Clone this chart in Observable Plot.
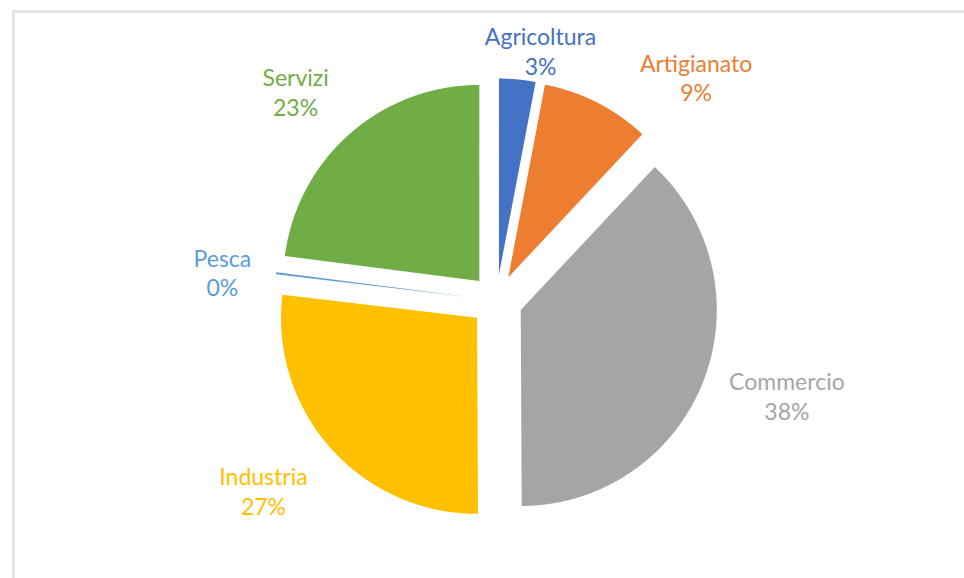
<!DOCTYPE html>
<html><head><meta charset="utf-8">
<script src="https://cdn.jsdelivr.net/npm/d3@7"></script>
<script src="https://cdn.jsdelivr.net/npm/@observablehq/plot@0.6"></script>
<style>
html,body{margin:0;padding:0;background:#fff;}
#wrap{position:relative;width:964px;height:578px;overflow:hidden;}
#frame{position:absolute;left:12px;top:10px;width:960px;height:580px;border-top:3px solid #e4e4e4;border-left:3px solid #e4e4e4;}
#chart{position:absolute;left:0;top:0;}
</style></head><body>
<div id="wrap"><div id="frame"></div><div id="chart"></div></div>
<script>
// ---- data ----
const categories = ["Agricoltura", "Artigianato", "Commercio", "Industria", "Pesca", "Servizi"];
const shares = [3, 9, 38, 27, 0.15, 23];
const colors = ["#4472C4", "#ED7D31", "#A5A5A5", "#FFC000", "#5B9BD5", "#70AD47"];
const percentLabels = ["3%", "9%", "38%", "27%", "0%", "23%"];

// ---- layout ----
const W = 964, H = 578, CX = 496, CY = 300, R = 196;
const EXPLODE = 0.133;
const labelLayout = {
  Agricoltura: {shift: 4.6, r: 1.295},
  Artigianato: {shift: 14.8, r: 1.529},
  Commercio: {shift: -3.3, r: 1.559},
  Industria: {shift: 2.5, r: 1.535},
  Pesca: {shift: -1.1, r: 1.406},
  Servizi: {shift: -2.5, r: 1.48}
};

const table = categories.map((c, i) => ({cat: c, value: shares[i], pct: percentLabels[i]}));
const arcs = d3.pie().sort(null).value(d => d.value)(table);

const slicePts = [];
const labels = [];
for (const a of arcs) {
  const mid = (a.startAngle + a.endAngle) / 2;
  const ox = EXPLODE * Math.sin(mid), oy = EXPLODE * Math.cos(mid);
  slicePts.push({cat: a.data.cat, x: ox, y: oy});
  const n = Math.max(2, Math.ceil((a.endAngle - a.startAngle) / 0.005) + 1);
  for (let k = 0; k < n; k++) {
    const t = a.startAngle + (a.endAngle - a.startAngle) * k / (n - 1);
    slicePts.push({cat: a.data.cat, x: ox + Math.sin(t), y: oy + Math.cos(t)});
  }
  slicePts.push({cat: a.data.cat, x: ox, y: oy});
  const L = labelLayout[a.data.cat];
  const la = mid + L.shift * Math.PI / 180;
  labels.push({cat: a.data.cat, text: a.data.cat + "\n" + a.data.pct, x: L.r * Math.sin(la), y: L.r * Math.cos(la)});
}

const chart = Plot.plot({
  width: W, height: H, margin: 0,
  x: {domain: [-CX / R, (W - CX) / R], axis: null},
  y: {domain: [-(H - CY) / R, CY / R], axis: null},
  color: {domain: categories, range: colors},
  style: {background: "transparent"},
  marks: [
    Plot.line(slicePts, {x: "x", y: "y", z: "cat", fill: "cat", stroke: "none", curve: "linear-closed"}),
    Plot.text(labels, {x: "x", y: "y", text: "text", fill: "cat", fontSize: 23, lineHeight: 1.3, fontFamily: "Lato"})
  ]
});
document.getElementById("chart").appendChild(chart);
</script>
</body></html>
